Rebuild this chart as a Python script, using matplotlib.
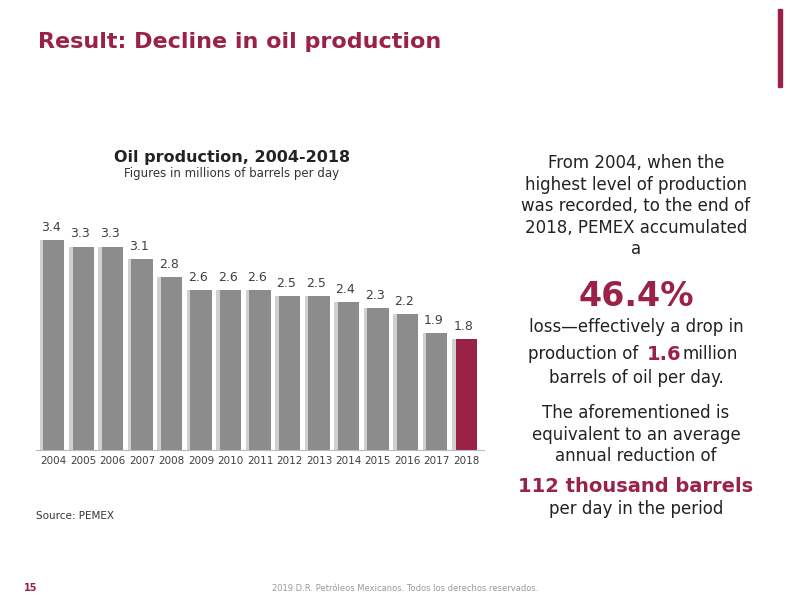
import matplotlib.pyplot as plt

years = [str(y) for y in range(2004, 2019)]
production = [3.4, 3.3, 3.3, 3.1, 2.8, 2.6, 2.6, 2.6, 2.5, 2.5, 2.4, 2.3, 2.2, 1.9, 1.8]
labels = ['3.4', '3.3', '3.3', '3.1', '2.8', '2.6', '2.6', '2.6', '2.5', '2.5', '2.4', '2.3', '2.2', '1.9', '1.8']

maroon = '#9b2247'
gray = '#8c8c8c'

fig = plt.figure(figsize=(8, 6), dpi=100)
fig.patch.set_facecolor('white')

ax = fig.add_axes([0.045, 0.25, 0.56, 0.38])
x = range(len(years))
colors = [gray] * (len(years) - 1) + [maroon]
# soft shadow behind bars
ax.bar([i - 0.12 for i in x], production, width=0.72, color='#d0d0d0', zorder=1)
ax.bar(x, production, width=0.72, color=colors, zorder=2)
for i, (v, lab) in enumerate(zip(production, labels)):
    ax.text(i - 0.1, v + 0.1, lab, ha='center', va='bottom', fontsize=9, color='#404040')
ax.set_xticks(list(x))
ax.set_xticklabels(years, fontsize=7.5, color='#404040')
ax.set_ylim(0, 3.7)
ax.set_xlim(-0.6, len(years) - 0.4)
ax.set_yticks([])
for s in ['top', 'right', 'left']:
    ax.spines[s].set_visible(False)
ax.spines['bottom'].set_color('#bbbbbb')
ax.tick_params(axis='x', length=0, pad=4)
ax.set_facecolor('none')

fig.text(0.048, 0.92, 'Result: Decline in oil production', fontsize=16, fontweight='bold', color=maroon)
fig.patches.append(plt.Rectangle((0.972, 0.855), 0.006, 0.13, transform=fig.transFigure, color=maroon))
fig.text(0.29, 0.73, 'Oil production, 2004-2018', fontsize=11.5, fontweight='bold', ha='center', color='#222222')
fig.text(0.29, 0.705, 'Figures in millions of barrels per day', fontsize=8.5, ha='center', color='#333333')
fig.text(0.045, 0.135, 'Source: PEMEX', fontsize=7.5, color='#333333')
fig.text(0.03, 0.015, '15', fontsize=7, color=maroon, fontweight='bold')
fig.text(0.34, 0.015, '2019 D.R. Petróleos Mexicanos. Todos los derechos reservados.', fontsize=6, color='#999999')

cx = 0.795
fig.text(cx, 0.57, 'From 2004, when the\nhighest level of production\nwas recorded, to the end of\n2018, PEMEX accumulated\na',
         ha='center', va='bottom', fontsize=12, color='#222222', linespacing=1.25)
fig.text(cx, 0.505, '46.4%', ha='center', va='center', fontsize=24, fontweight='bold', color=maroon)
fig.text(cx, 0.455, 'loss\u2014effectively a drop in', ha='center', va='center', fontsize=12, color='#222222')
fig.text(0.66, 0.41, 'production of', ha='left', va='center', fontsize=12, color='#222222')
fig.text(0.808, 0.41, '1.6', ha='left', va='center', fontsize=14, fontweight='bold', color=maroon)
fig.text(0.853, 0.41, 'million', ha='left', va='center', fontsize=12, color='#222222')
fig.text(cx, 0.37, 'barrels of oil per day.', ha='center', va='center', fontsize=12, color='#222222')
fig.text(cx, 0.225, 'The aforementioned is\nequivalent to an average\nannual reduction of',
         ha='center', va='bottom', fontsize=12, color='#222222', linespacing=1.25)
fig.text(cx, 0.19, '112 thousand barrels', ha='center', va='center', fontsize=14, fontweight='bold', color=maroon)
fig.text(cx, 0.152, 'per day in the period', ha='center', va='center', fontsize=12, color='#222222')

fig.savefig('out.png', dpi=100)
